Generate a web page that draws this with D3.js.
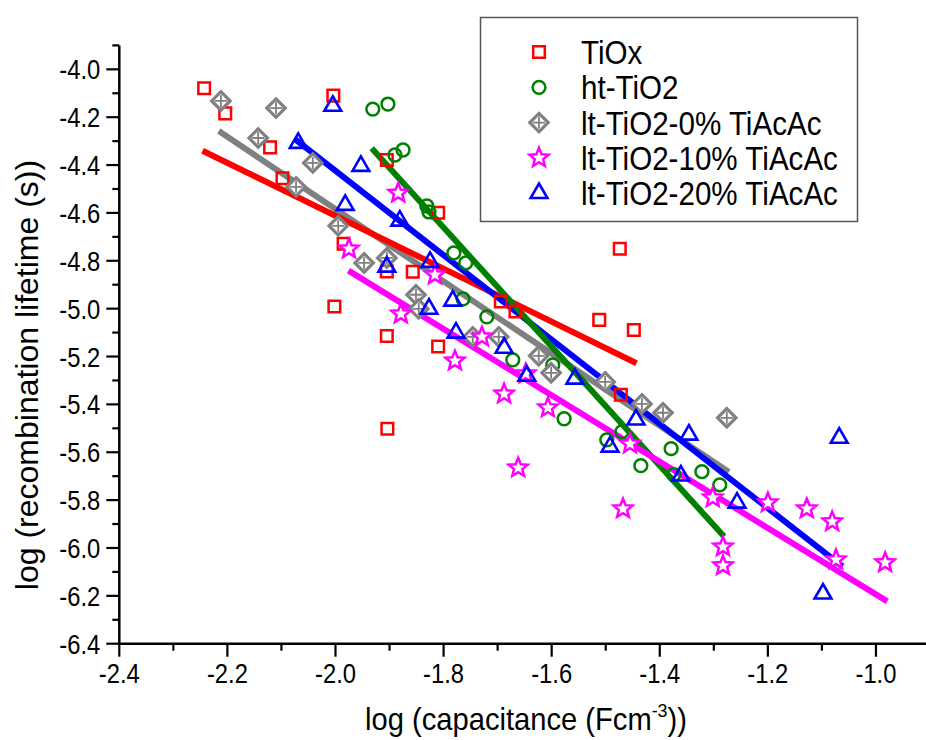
<!DOCTYPE html>
<html>
<head>
<meta charset="utf-8">
<script src="https://cdn.jsdelivr.net/npm/d3@7"></script>
<style>
  body { margin: 0; background: #fff; }
  text { font-family: Arial, "Liberation Sans", sans-serif; fill: #000; }
</style>
</head>
<body>
<div id="chart"></div>
<script>
// scatter data, [log capacitance, log lifetime]
const tiox = [
  [-2.243, -4.079], [-2.204, -4.184], [-2.121, -4.326], [-2.098, -4.455], [-2.004, -4.110],
  [-1.985, -4.729], [-2.002, -4.991], [-1.905, -4.379], [-1.905, -4.845], [-1.857, -4.846],
  [-1.810, -4.599], [-1.905, -5.114], [-1.810, -5.158], [-1.904, -5.502], [-1.694, -4.970],
  [-1.667, -5.012], [-1.512, -5.047], [-1.474, -4.750], [-1.448, -5.089], [-1.472, -5.360]
];
const htTiO2 = [
  [-1.931, -4.166], [-1.903, -4.145], [-1.890, -4.358], [-1.875, -4.337], [-1.831, -4.571],
  [-1.827, -4.596], [-1.781, -4.767], [-1.759, -4.809], [-1.764, -4.959], [-1.720, -5.034],
  [-1.672, -5.214], [-1.598, -5.235], [-1.577, -5.460], [-1.498, -5.548], [-1.470, -5.514],
  [-1.435, -5.656], [-1.379, -5.585], [-1.374, -5.694], [-1.322, -5.681], [-1.289, -5.736]
];
const lt0 = [
  [-2.212, -4.132], [-2.110, -4.162], [-2.143, -4.287], [-2.042, -4.391], [-2.073, -4.491],
  [-1.995, -4.654], [-1.947, -4.809], [-1.905, -4.788], [-1.851, -4.942], [-1.846, -5.001],
  [-1.746, -5.118], [-1.698, -5.118], [-1.624, -5.197], [-1.601, -5.268], [-1.501, -5.306],
  [-1.433, -5.398], [-1.394, -5.435], [-1.276, -5.456]
];
const lt10 = [
  [-1.975, -4.750], [-1.884, -4.517], [-1.879, -5.022], [-1.816, -4.859], [-1.779, -5.218],
  [-1.729, -5.118], [-1.688, -5.356], [-1.648, -5.272], [-1.662, -5.665], [-1.607, -5.414],
  [-1.468, -5.836], [-1.455, -5.565], [-1.302, -5.790], [-1.283, -5.995], [-1.283, -6.074],
  [-1.200, -5.811], [-1.128, -5.836], [-1.081, -5.890], [-1.074, -6.049], [-0.983, -6.061]
];
const lt20 = [
  [-2.005, -4.153], [-2.069, -4.308], [-1.982, -4.567], [-1.953, -4.404], [-1.881, -4.633],
  [-1.905, -4.825], [-1.825, -4.805], [-1.783, -4.967], [-1.827, -5.001], [-1.777, -5.101],
  [-1.688, -5.164], [-1.646, -5.281], [-1.557, -5.293], [-1.492, -5.577], [-1.444, -5.464],
  [-1.346, -5.527], [-1.361, -5.698], [-1.257, -5.811], [-1.068, -5.540], [-1.098, -6.191]
];

// linear fit segments, [start, end]
const fitTiox = [[-2.246, -4.340], [-1.443, -5.228]];
const fitHt = [[-1.933, -4.330], [-1.281, -5.952]];
const fitLt0 = [[-2.216, -4.258], [-1.272, -5.683]];
const fitLt10 = [[-1.976, -4.841], [-0.979, -6.223]];
const fitLt20 = [[-2.075, -4.292], [-1.062, -6.077]];

const seriesNames = ["TiOx", "ht-TiO2", "lt-TiO2-0% TiAcAc", "lt-TiO2-10% TiAcAc", "lt-TiO2-20% TiAcAc"];
const xTicks = [-2.4, -2.2, -2.0, -1.8, -1.6, -1.4, -1.2, -1.0];
const yTicks = [-4.0, -4.2, -4.4, -4.6, -4.8, -5.0, -5.2, -5.4, -5.6, -5.8, -6.0, -6.2, -6.4];

document.addEventListener('DOMContentLoaded', function () {
    const width = 926;
    const height = 740;

    const svg = d3.select("#chart")
        .append("svg")
        .attr("width", width)
        .attr("height", height);

    const x = d3.scaleLinear().domain([-2.4, -0.9]).range([119.3, 930]);
    const y = d3.scaleLinear().domain([-6.4, -3.9]).range([643.7, 45.4]);

    // the original fonts are a bit narrow, squeeze text horizontally
    const squeeze = (px, py, k) => `translate(${px},${py}) scale(${k},1)`;

    // marker shapes
    function square(s) { return `M${-s},${-s}H${s}V${s}H${-s}Z`; }
    function diamond(s) { return `M0,${-s}L${s},0L0,${s}L${-s},0Z`; }
    function triangle(s) {
        const h = s * Math.sqrt(3);
        return `M0,${-h * 2 / 3}L${s},${h / 3}L${-s},${h / 3}Z`;
    }
    function star(ro, ri) {
        let p = "";
        for (let i = 0; i < 10; i++) {
            const r = i % 2 ? ri : ro;
            const a = -Math.PI / 2 + i * Math.PI / 5;
            p += (i ? "L" : "M") + (r * Math.cos(a)).toFixed(2) + "," + (r * Math.sin(a)).toFixed(2);
        }
        return p + "Z";
    }

    const styles = [
        { color: "#ff0000", draw: g => g.append("path").attr("d", square(5.8)).attr("fill", "none").attr("stroke-width", 2.5) },
        { color: "#008000", draw: g => g.append("circle").attr("r", 6.4).attr("fill", "none").attr("stroke-width", 2.5) },
        { color: "#808080", draw: g => {
            g.append("path").attr("d", diamond(9.2)).attr("fill", "#fff").attr("stroke-width", 3.2);
            g.append("path").attr("d", "M0,-6V6M-6,0H6").attr("stroke-width", 1.8);
        } },
        { color: "#ff00ff", draw: g => g.append("path").attr("d", star(10, 4.4)).attr("fill", "#fff").attr("stroke-width", 2.5) },
        { color: "#0000ff", draw: g => g.append("path").attr("d", triangle(8.4)).attr("fill", "none").attr("stroke-width", 2.6) }
    ];

    const points = [tiox, htTiO2, lt0, lt10, lt20];
    const fits = [fitTiox, fitHt, fitLt0, fitLt10, fitLt20];

    // axes
    const xAxis = svg.append("g").attr("transform", `translate(0,${y(-6.4)})`);
    xAxis.append("line").attr("x1", x(-2.4)).attr("x2", width).attr("stroke", "#000").attr("stroke-width", 2.5);
    const xMinor = d3.range(-2.4, -0.85, 0.1).map(v => +v.toFixed(1));
    xAxis.selectAll(".xm").data(xMinor).enter().append("line")
        .attr("x1", d => x(d)).attr("x2", d => x(d))
        .attr("y1", 0).attr("y2", d => xTicks.includes(d) ? 13 : 7)
        .attr("stroke", "#000").attr("stroke-width", 2.2);
    xAxis.selectAll(".xl").data(xTicks).enter().append("text")
        .attr("transform", d => squeeze(x(d), 39, 0.85))
        .attr("text-anchor", "middle").attr("font-size", 28)
        .text(d => d.toFixed(1));

    const yAxis = svg.append("g").attr("transform", `translate(${x(-2.4)},0)`);
    yAxis.append("line").attr("y1", y(-3.9)).attr("y2", y(-6.4)).attr("stroke", "#000").attr("stroke-width", 2.5);
    const yMinor = d3.range(-6.4, -3.85, 0.1).map(v => +v.toFixed(1));
    yAxis.selectAll(".ym").data(yMinor).enter().append("line")
        .attr("y1", d => y(d)).attr("y2", d => y(d))
        .attr("x1", 0).attr("x2", d => yTicks.includes(d) ? -13 : -7)
        .attr("stroke", "#000").attr("stroke-width", 2.2);
    yAxis.selectAll(".yl").data(yTicks).enter().append("text")
        .attr("transform", d => squeeze(-19, y(d) + 10, 0.85))
        .attr("text-anchor", "end").attr("font-size", 28)
        .text(d => d.toFixed(1));

    // axis titles
    const xt = svg.append("text")
        .attr("transform", squeeze(526, 730, 0.94))
        .attr("text-anchor", "middle").attr("font-size", 31);
    xt.append("tspan").text("log (capacitance (Fcm");
    xt.append("tspan").attr("dy", -13).attr("font-size", 19).text("-3");
    xt.append("tspan").attr("dy", 13).text("))");

    svg.append("text")
        .attr("transform", "translate(38,375) rotate(-90)")
        .attr("text-anchor", "middle").attr("font-size", 32)
        .text("log (recombination lifetime (s))");

    // fit lines
    const line = d3.line().x(d => x(d[0])).y(d => y(d[1]));
    const lineOrder = [2, 0, 4, 1, 3];
    svg.append("g").selectAll("path")
        .data(lineOrder)
        .enter().append("path")
        .attr("d", i => line(fits[i]))
        .attr("stroke", i => styles[i].color)
        .attr("stroke-width", 6)
        .attr("fill", "none");

    // scatter markers
    points.forEach(function (pts, i) {
        svg.append("g").selectAll("g")
            .data(pts)
            .enter().append("g")
            .attr("transform", d => `translate(${x(d[0])},${y(d[1])})`)
            .attr("stroke", styles[i].color)
            .each(function () { styles[i].draw(d3.select(this)); });
    });

    // legend
    const legend = svg.append("g");
    legend.append("rect")
        .attr("x", 480.5).attr("y", 17.5).attr("width", 377).attr("height", 204)
        .attr("fill", "#fff").attr("stroke", "#555").attr("stroke-width", 1.5);
    const rows = legend.selectAll(".row")
        .data(seriesNames)
        .enter().append("g")
        .attr("transform", (d, i) => `translate(539,${52 + i * 35.3})`);
    rows.each(function (d, i) {
        const g = d3.select(this).append("g").attr("stroke", styles[i].color);
        styles[i].draw(g);
    });
    rows.append("text")
        .attr("transform", squeeze(42, 12, 0.87))
        .attr("font-size", 34)
        .text(d => d);
});
</script>
</body>
</html>
